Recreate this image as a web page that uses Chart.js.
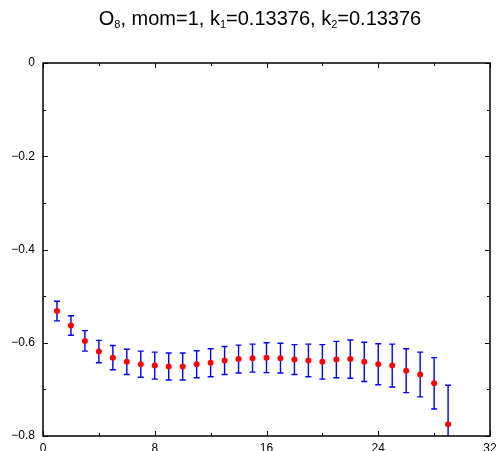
<!DOCTYPE html>
<html>
<head>
<meta charset="utf-8">
<script src="https://cdn.jsdelivr.net/npm/chart.js@4.4.0/dist/chart.umd.min.js"></script>
<style>
  html, body { margin: 0; padding: 0; background: #fff; }
  #wrap { position: relative; width: 498px; height: 451px; }
  #title { position: absolute; left: 0; width: 520px; top: 7px; text-align: center;
           font-family: "Liberation Sans", Arial, sans-serif; font-size: 20px; color: #000; line-height: 22px; white-space: nowrap; }
  #title sub { font-size: 11px; vertical-align: -3px; line-height: 0; }
</style>
</head>
<body>
<div id="wrap">
  <canvas id="c" width="498" height="451"></canvas>
  <div id="title">O<sub>8</sub>, mom=1, k<sub>1</sub>=0.13376, k<sub>2</sub>=0.13376</div>
</div>
<script>
const tValues = [1,2,3,4,5,6,7,8,9,10,11,12,13,14,15,16,17,18,19,20,21,22,23,24,25,26,27,28,29];
const means = [-0.532,-0.563,-0.596,-0.619,-0.632,-0.641,-0.646,-0.649,-0.651,-0.651,-0.646,-0.643,-0.638,-0.635,-0.633,-0.632,-0.633,-0.636,-0.638,-0.641,-0.636,-0.635,-0.641,-0.646,-0.649,-0.660,-0.668,-0.687,-0.775];
const errors = [0.021,0.021,0.022,0.024,0.026,0.027,0.028,0.029,0.029,0.029,0.029,0.030,0.030,0.030,0.030,0.032,0.032,0.032,0.035,0.037,0.039,0.041,0.042,0.044,0.046,0.047,0.048,0.055,0.084];
const xMajor = [0,8,16,24,32];
const yMajor = [0,-0.2,-0.4,-0.6,-0.8];

const fmt = v => {
  const r = Math.round(v*10)/10;
  if (r === 0) return '0';
  return (r < 0 ? '\u2212' : '') + Math.abs(r).toString();
};

const frame = {
  id: 'frame',
  beforeDatasetsDraw(chart) {
    const {ctx, chartArea: a, scales: {x, y}} = chart;
    ctx.save();
    ctx.beginPath();
    ctx.rect(a.left, a.top, a.right - a.left, a.bottom - a.top);
    ctx.clip();
    ctx.strokeStyle = '#0000ff';
    ctx.lineWidth = 1.4;
    means.forEach((m, i) => {
      const px = x.getPixelForValue(tValues[i]);
      const top = y.getPixelForValue(m + errors[i]);
      const bot = y.getPixelForValue(m - errors[i]);
      ctx.beginPath();
      ctx.moveTo(px, top); ctx.lineTo(px, bot);
      ctx.moveTo(px - 3, top); ctx.lineTo(px + 3, top);
      ctx.moveTo(px - 3, bot); ctx.lineTo(px + 3, bot);
      ctx.stroke();
    });
    ctx.restore();
  },
  afterDraw(chart) {
    const {ctx, chartArea: a, scales: {x, y}} = chart;
    ctx.save();
    ctx.strokeStyle = '#000';
    ctx.lineWidth = 1;
    for (let v = 0; v <= 32; v += 4) {
      const px = Math.round(x.getPixelForValue(v)) + 0.5;
      const len = (v % 8 === 0) ? 5 : 3;
      ctx.beginPath();
      ctx.moveTo(px, a.bottom); ctx.lineTo(px, a.bottom - len);
      ctx.moveTo(px, a.top); ctx.lineTo(px, a.top + len);
      ctx.stroke();
    }
    for (let k = 0; k <= 8; k++) {
      const v = -k / 10;
      const py = Math.round(y.getPixelForValue(v)) + 0.5;
      const len = (k % 2 === 0) ? 5 : 3;
      ctx.beginPath();
      ctx.moveTo(a.left, py); ctx.lineTo(a.left + len, py);
      ctx.moveTo(a.right, py); ctx.lineTo(a.right - len, py);
      ctx.stroke();
    }
    ctx.lineWidth = 1.5;
    ctx.strokeRect(a.left, a.top, a.right - a.left, a.bottom - a.top);
    ctx.restore();
  }
};

new Chart(document.getElementById('c'), {
  type: 'scatter',
  data: {
    datasets: [{
      data: tValues.map((t, i) => ({x: t, y: means[i]})),
      backgroundColor: '#ff0000',
      borderColor: '#ff0000',
      pointRadius: 3,
      borderWidth: 0
    }]
  },
  options: {
    responsive: false,
    animation: false,
    devicePixelRatio: 1,
    layout: { padding: { left: 0, right: 8, top: 63, bottom: 0 } },
    plugins: { legend: { display: false }, tooltip: { enabled: false } },
    scales: {
      x: {
        type: 'linear', min: 0, max: 32,
        border: { display: false },
        grid: { display: false, drawTicks: false, tickLength: 0 },
        afterFit(s) { s.height = 15; s.paddingLeft = 0; s.paddingRight = 0; },
        afterBuildTicks(s) { s.ticks = xMajor.map(v => ({value: v})); },
        ticks: { color: '#000', padding: 5, maxRotation: 0, font: { family: 'Liberation Sans', size: 12 },
                 callback: v => String(v) }
      },
      y: {
        type: 'linear', min: -0.8, max: 0,
        border: { display: false },
        grid: { display: false, drawTicks: false, tickLength: 0 },
        afterFit(s) { s.width = 43; s.paddingTop = 0; s.paddingBottom = 0; },
        afterBuildTicks(s) { s.ticks = yMajor.map(v => ({value: v})); },
        ticks: { color: '#000', padding: 8, font: { family: 'Liberation Sans', size: 12 },
                 callback: v => fmt(v) }
      }
    }
  },
  plugins: [frame]
});
</script>
</body>
</html>
